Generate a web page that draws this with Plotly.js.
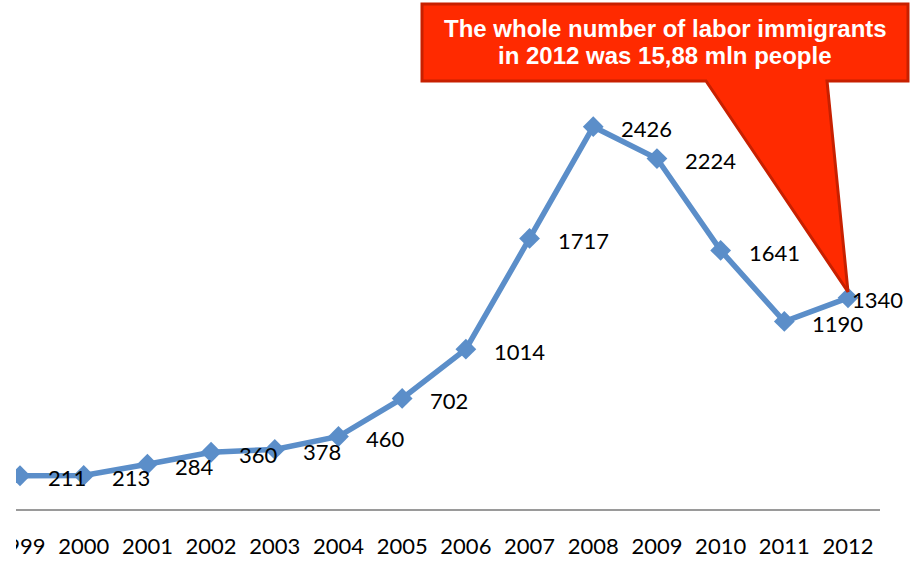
<!DOCTYPE html>
<html>
<head>
<meta charset="utf-8">
<script src="https://cdn.plot.ly/plotly-3.0.1.min.js"></script>
<style>
  html, body { margin: 0; padding: 0; background: #ffffff; }
  #chart { width: 912px; height: 563px; }
</style>
</head>
<body>
<div id="chart"></div>
<script>
// ---- data ----
const years = [1999, 2000, 2001, 2002, 2003, 2004, 2005, 2006, 2007, 2008, 2009, 2010, 2011, 2012];
const yearLabels = ['1999', '2000', '2001', '2002', '2003', '2004', '2005', '2006', '2007', '2008', '2009', '2010', '2011', '2012'];
const migrants = [211, 213, 284, 360, 378, 460, 702, 1014, 1717, 2426, 2224, 1641, 1190, 1340];
const labelPlacement = ['right', 'right', 'right', 'right', 'right', 'right', 'right', 'right', 'right', 'right', 'right', 'right', 'right', 'close'];
const calloutLines = ['The whole number of labor immigrants', 'in 2012 was 15,88 mln people'];

// ---- geometry / style ----
const W = 912, H = 563;
const M = { l: 16, r: 32, t: 0, b: 54 };
const plotW = W - M.l - M.r, plotH = H - M.t - M.b;
const xRange = [1998.937, 2012.502];
const yRange = [0, 3230];
const px2paperX = p => (p - M.l) / plotW;
const py2paperY = p => (H - M.b - p) / plotH;
const LABEL_FONT = { family: 'Lato, "Open Sans", sans-serif', size: 22, color: '#000000' };

const trace = {
  type: 'scatter',
  mode: 'lines+markers',
  x: years,
  y: migrants,
  line: { color: '#5b8ec9', width: 5.5 },
  marker: { symbol: 'diamond', size: 16, color: '#5b8ec9' },
  hoverinfo: 'x+y',
  cliponaxis: true
};

const annotations = migrants.map((v, i) => ({
  x: years[i], y: v, xref: 'x', yref: 'y',
  text: String(v), showarrow: false,
  xanchor: 'left', yanchor: 'middle',
  xshift: labelPlacement[i] === 'right' ? 26 : 2,
  yshift: -2,
  font: LABEL_FONT
}));

// callout text lines
const calloutCenterX = px2paperX(665);
[29, 56].forEach((py, k) => {
  annotations.push({
    x: calloutCenterX, y: py2paperY(py), xref: 'paper', yref: 'paper',
    text: '<b>' + calloutLines[k] + '</b>', showarrow: false,
    xanchor: 'center', yanchor: 'middle',
    font: { family: '"Liberation Sans", Arial, sans-serif', size: 24, color: '#ffffff' }
  });
});

// callout bubble (paper coords), tip pointing at the last data point
const last = years.length - 1;
const tipX = (years[last] - xRange[0]) / (xRange[1] - xRange[0]);
const tipY = (migrants[last] - yRange[0]) / (yRange[1] - yRange[0]) + 6 / plotH;
const bx0 = px2paperX(422), bx1 = px2paperX(908);
const by0 = py2paperY(81), by1 = py2paperY(4);
const wl = px2paperX(706), wr = px2paperX(827);
const calloutPath = `M ${bx0} ${by1} L ${bx1} ${by1} L ${bx1} ${by0} L ${wr} ${by0} L ${tipX} ${tipY} L ${wl} ${by0} L ${bx0} ${by0} Z`;

const shapes = [
  {
    type: 'path', xref: 'paper', yref: 'paper', layer: 'above',
    path: calloutPath,
    fillcolor: '#ff2a00',
    line: { color: '#c82000', width: 3 }
  },
  {
    // page crop on the left edge (hides the part of the first tick label left of the plot)
    type: 'rect', xref: 'paper', yref: 'paper', layer: 'above',
    x0: -0.05, x1: 0, y0: -0.2, y1: -0.004,
    fillcolor: '#ffffff', line: { width: 0 }
  }
];

const layout = {
  width: W, height: H,
  margin: { l: M.l, r: M.r, t: M.t, b: M.b, pad: 0 },
  paper_bgcolor: '#ffffff', plot_bgcolor: '#ffffff',
  showlegend: false,
  xaxis: {
    range: xRange,
    tickmode: 'array', tickvals: years, ticktext: yearLabels,
    showgrid: false, zeroline: false,
    showline: true, linecolor: '#9a9a9a', linewidth: 2,
    ticks: 'outside', ticklen: 17, tickcolor: 'rgba(0,0,0,0)',
    tickfont: LABEL_FONT,
    ticklabeloverflow: 'allow',
    fixedrange: true
  },
  yaxis: {
    range: yRange, visible: false, showgrid: false, zeroline: false, fixedrange: true
  },
  shapes: shapes,
  annotations: annotations
};

Plotly.newPlot('chart', [trace], layout, { displayModeBar: false, staticPlot: true });
</script>
</body>
</html>
